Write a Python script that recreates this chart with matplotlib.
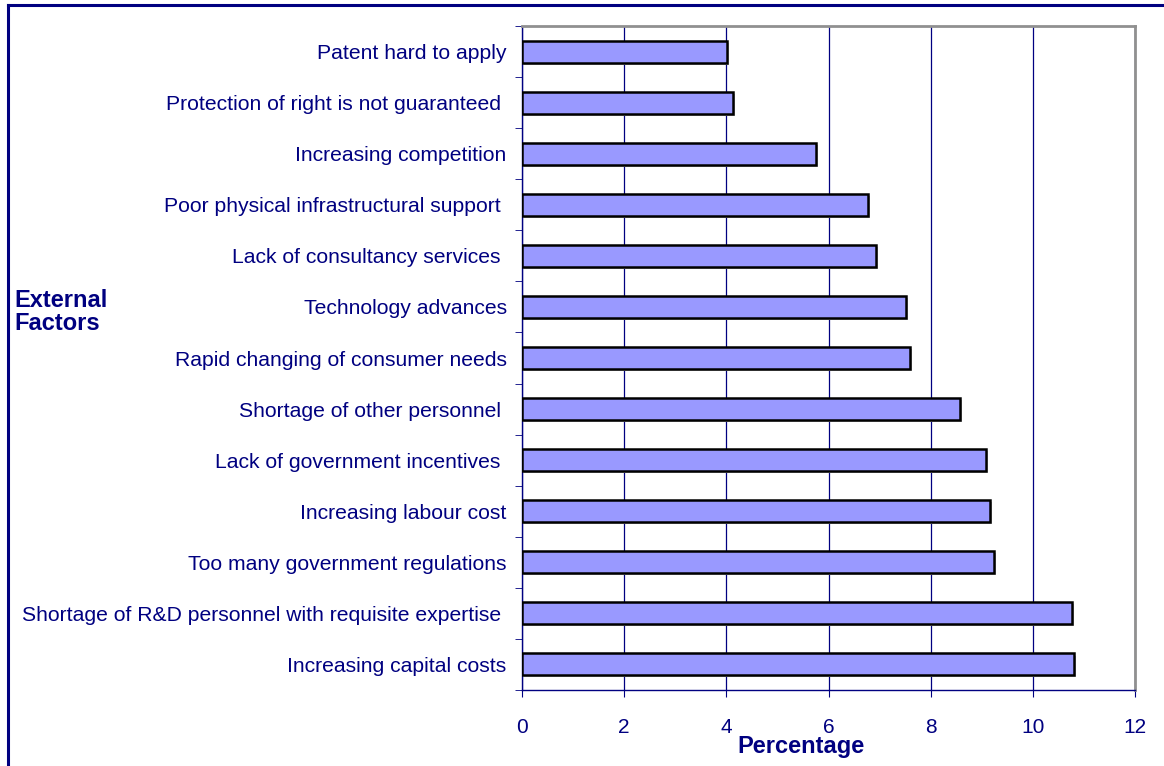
import matplotlib
matplotlib.use("Agg")
import matplotlib.pyplot as plt
import matplotlib.lines as mlines
import numpy as np

# Factores externos (de abajo hacia arriba) y porcentaje de empresas que los citan
factors = [
    "Increasing capital costs",
    "Shortage of R&D personnel with requisite expertise ",
    "Too many government regulations",
    "Increasing labour cost",
    "Lack of government incentives ",
    "Shortage of other personnel ",
    "Rapid changing of consumer needs",
    "Technology advances",
    "Lack of consultancy services ",
    "Poor physical infrastructural support ",
    "Increasing competition",
    "Protection of right is not guaranteed ",
    "Patent hard to apply",
]
percent = [10.81, 10.77, 9.24, 9.16, 9.08, 8.57, 7.60, 7.52, 6.93, 6.77, 5.76, 4.13, 4.01]
x_ticks = [0, 2, 4, 6, 8, 10, 12]

NAVY = "#000080"
BAR = "#9999FF"

plt.rcParams["font.family"] = ["Liberation Sans", "DejaVu Sans"]

fig = plt.figure(figsize=(11.64, 7.66), dpi=100)
W, H = 1164, 766

# marco exterior azul (recortado por la derecha y abajo)
fig.add_artist(mlines.Line2D([8 / W, 8 / W], [0, 1 - 5 / H], color=NAVY, lw=2.2,
                             transform=fig.transFigure))
fig.add_artist(mlines.Line2D([8 / W, 1], [1 - 5 / H, 1 - 5 / H], color=NAVY, lw=2.2,
                             transform=fig.transFigure))

left, right, top, bottom = 522, 1135, 26, 690
ax = fig.add_axes([left / W, 1 - bottom / H, (right - left) / W, (bottom - top) / H])

y = np.arange(len(factors))
# sombra ligera detrás de cada barra
ax.barh(y - 0.04, percent, height=0.43, left=0.04, color="#c8c8c8", zorder=2)
ax.barh(y, percent, height=0.43, color=BAR, edgecolor="black", linewidth=1.8, zorder=3)

ax.set_xlim(0, 12)
ax.set_ylim(-0.5, len(factors) - 0.5)
ax.set_xticks(x_ticks)
ax.set_xticklabels([str(t) for t in x_ticks])
ax.set_yticks(y)
ax.set_yticklabels(factors)
ax.set_yticks(np.arange(len(factors) + 1) - 0.5, minor=True)

ax.grid(axis="x", color=NAVY, lw=0.9, zorder=1)
ax.set_axisbelow(True)

for side in ("top", "right"):
    ax.spines[side].set_color("#909090")
    ax.spines[side].set_linewidth(2)
for side in ("left", "bottom"):
    ax.spines[side].set_color(NAVY)
    ax.spines[side].set_linewidth(1.0)

ax.tick_params(axis="y", which="major", length=0, pad=11, labelsize=15.2, labelcolor=NAVY)
ax.tick_params(axis="y", which="minor", length=5, color=NAVY, direction="out")
ax.tick_params(axis="x", length=5, color=NAVY, direction="out", pad=15,
               labelsize=15, labelcolor=NAVY)

ax.set_xlabel("Percentage", fontsize=17, fontweight="bold", color=NAVY, labelpad=-1)
ax.xaxis.label.set_x((801 - left) / (right - left))
fig.text(14 / W, 1 - 312 / H, "External\nFactors", fontsize=17, fontweight="bold",
         color=NAVY, ha="left", va="center", linespacing=1.0)

fig.savefig("out.png", dpi=100, facecolor="white")
